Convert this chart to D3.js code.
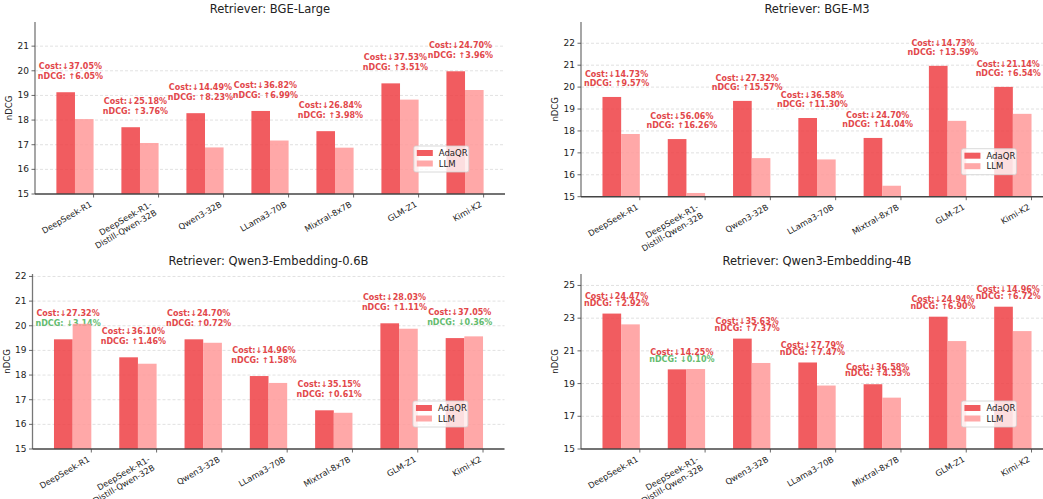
<!DOCTYPE html>
<html>
<head>
<meta charset="utf-8">
<script src="https://cdn.jsdelivr.net/npm/d3@7"></script>
<style>
  body { margin: 0; background: #fff; }
  svg { font-family: "DejaVu Sans", sans-serif; display: block; }
</style>
</head>
<body>
<div id="chart"></div>
<script>
// models on the x axis (second line after \n)
var models = ["DeepSeek-R1", "DeepSeek-R1-\nDistill-Qwen-32B", "Qwen3-32B", "LLama3-70B", "Mixtral-8x7B", "GLM-Z1", "Kimi-K2"];
var seriesNames = ["AdaQR", "LLM"];

// Retriever: BGE-Large
var bgeLargeAdaQR = [19.13, 17.71, 18.28, 18.37, 17.55, 19.49, 19.98];
var bgeLargeLLM   = [18.04, 17.07, 16.89, 17.17, 16.88, 18.83, 19.22];
var bgeLargeCost  = ["37.05", "25.18", "14.49", "36.82", "26.84", "37.53", "24.70"];
var bgeLargeGain  = [6.05, 3.76, 8.23, 6.99, 3.98, 3.51, 3.96];

// Retriever: BGE-M3
var bgeM3AdaQR = [19.55, 17.63, 19.37, 18.59, 17.68, 20.97, 20.01];
var bgeM3LLM   = [17.86, 15.17, 16.76, 16.70, 15.50, 18.46, 18.78];
var bgeM3Cost  = ["14.73", "56.06", "27.32", "36.58", "24.70", "14.73", "21.14"];
var bgeM3Gain  = [9.57, 16.26, 15.57, 11.30, 14.04, 13.59, 6.54];

// Retriever: Qwen3-Embedding-0.6B
var qwen06AdaQR = [19.45, 18.72, 19.45, 17.96, 16.57, 20.10, 19.50];
var qwen06LLM   = [20.08, 18.46, 19.31, 17.68, 16.47, 19.88, 19.57];
var qwen06Cost  = ["27.32", "36.10", "24.70", "14.96", "35.15", "28.03", "37.05"];
var qwen06Gain  = [-3.14, 1.46, 0.72, 1.58, 0.61, 1.11, -0.36];

// Retriever: Qwen3-Embedding-4B
var qwen4AdaQR = [23.28, 19.87, 21.75, 20.29, 18.96, 23.09, 23.70];
var qwen4LLM   = [22.62, 19.89, 20.26, 18.88, 18.14, 21.60, 22.21];
var qwen4Cost  = ["24.47", "14.25", "35.63", "27.79", "36.58", "24.94", "14.96"];
var qwen4Gain  = [2.92, -0.10, 7.37, 7.47, 4.53, 6.90, 6.72];

var yTicks3 = [15, 16, 17, 18, 19, 20, 21];
var yTicksM3 = [15, 16, 17, 18, 19, 20, 21, 22];
var yTicks06 = [15, 16, 17, 18, 19, 20, 21, 22];
var yTicks4 = [15, 17, 19, 21, 23, 25];

var colAda = "#ee3f44", colLLM = "#ff9999";
var colUp = "#e2474a", colDown = "#63bb6e";

var svg = d3.select("#chart").append("svg")
  .attr("width", 1043).attr("height", 499);

function panel(p) {
  var g = svg.append("g");
  var x = d3.scaleLinear().domain([-0.615, 6.615]).range([p.left, p.right]);
  var yMax = d3.max(p.ada) + 2;
  var y = d3.scaleLinear().domain([15, yMax]).range([p.bottom, p.top]);
  var bw = x(0.286) - x(0);

  // grid
  g.selectAll(".grid").data(p.ticks.slice(1)).enter().append("line")
    .attr("x1", p.left).attr("x2", p.right)
    .attr("y1", function(d) { return y(d); }).attr("y2", function(d) { return y(d); })
    .attr("stroke", "#d9d9d9").attr("stroke-width", 0.8).attr("stroke-dasharray", "3,2");

  // annotations (under bars)
  p.ada.forEach(function(v, i) {
    var cx = x(i) - 0.07 * (x(1) - x(0));
    var gain = p.gain[i];
    g.append("text").attr("x", cx).attr("y", y(v + 1.03))
      .attr("text-anchor", "middle").attr("dominant-baseline", "middle")
      .attr("font-size", 8).attr("font-weight", "bold").attr("fill", colUp)
      .text("Cost:\u2193" + p.cost[i] + "%");
    g.append("text").attr("x", cx).attr("y", y(v + 0.63))
      .attr("text-anchor", "middle").attr("dominant-baseline", "middle")
      .attr("font-size", 8).attr("font-weight", "bold")
      .attr("fill", gain < 0 ? colDown : colUp)
      .text("nDCG: " + (gain < 0 ? "\u2193" : "\u2191") + Math.abs(gain).toFixed(2) + "%");
  });

  // bars
  g.selectAll(".ada").data(p.ada).enter().append("rect")
    .attr("x", function(d, i) { return x(i) - bw; })
    .attr("y", function(d) { return y(d); })
    .attr("width", bw).attr("height", function(d) { return y(15) - y(d); })
    .attr("fill", colAda).attr("fill-opacity", 0.85);
  g.selectAll(".llm").data(p.llm).enter().append("rect")
    .attr("x", function(d, i) { return x(i); })
    .attr("y", function(d) { return y(d); })
    .attr("width", bw).attr("height", function(d) { return y(15) - y(d); })
    .attr("fill", colLLM).attr("fill-opacity", 0.85);

  // y axis
  g.append("line").attr("x1", p.left).attr("x2", p.left)
    .attr("y1", p.top).attr("y2", p.bottom).attr("stroke", "#777").attr("stroke-width", 1.3);
  p.ticks.forEach(function(t) {
    g.append("line").attr("x1", p.left - 3.5).attr("x2", p.left)
      .attr("y1", y(t)).attr("y2", y(t)).attr("stroke", "#444").attr("stroke-width", 0.8);
    g.append("text").attr("x", p.left - 6).attr("y", y(t))
      .attr("text-anchor", "end").attr("dominant-baseline", "central")
      .attr("font-size", 9).attr("fill", "#222").text(t);
  });
  // x axis: ticks sit at the right edge of each group
  g.append("line").attr("x1", p.left).attr("x2", p.right)
    .attr("y1", p.bottom).attr("y2", p.bottom).attr("stroke", "#444").attr("stroke-width", 1.5);
  models.forEach(function(m, i) {
    var tx = x(i) + bw;
    g.append("line").attr("x1", tx).attr("x2", tx)
      .attr("y1", p.bottom).attr("y2", p.bottom + 3.5).attr("stroke", "#444").attr("stroke-width", 0.8);
    var lines = m.split("\n");
    var lg = g.append("g");
    var t = lg.append("text").attr("transform", "rotate(-30)")
      .attr("text-anchor", "end").attr("font-size", 8.3).attr("fill", "#222");
    lines.forEach(function(l, k) {
      t.append("tspan").attr("x", 0).attr("dy", k === 0 ? 0 : "1.15em").text(l);
    });
    var bb = lg.node().getBBox();
    lg.attr("transform", "translate(" + (tx - (bb.x + bb.width)) + "," + (p.bottom + 5 - bb.y) + ")");
  });

  // title and y label
  g.append("text").attr("x", (p.left + p.right) / 2).attr("y", p.top - 9)
    .attr("text-anchor", "middle").attr("font-size", 11.5).attr("fill", "#222").text(p.title);
  g.append("text").attr("transform", "translate(" + (p.left - 23) + "," + ((p.top + p.bottom) / 2) + ") rotate(-90)")
    .attr("text-anchor", "middle").attr("font-size", 8.5).attr("fill", "#222").text("nDCG");

  // legend
  var lx = p.left + 0.806 * (p.right - p.left), ly = p.bottom - 48;
  g.append("rect").attr("x", lx).attr("y", ly).attr("width", 55).attr("height", 26)
    .attr("rx", 2).attr("fill", "#fff").attr("fill-opacity", 0.8)
    .attr("stroke", "#d0d0d0").attr("stroke-width", 0.8);
  [colAda, colLLM].forEach(function(c, k) {
    g.append("rect").attr("x", lx + 3).attr("y", ly + 4 + k * 10.5).attr("width", 16).attr("height", 6)
      .attr("fill", c).attr("fill-opacity", 0.85);
    g.append("text").attr("x", lx + 25).attr("y", ly + 7 + k * 10.5)
      .attr("dominant-baseline", "central").attr("font-size", 8.5).attr("fill", "#222")
      .text(seriesNames[k]);
  });
}

panel({ title: "Retriever: BGE-Large", left: 35, right: 505, top: 22, bottom: 194,
  ada: bgeLargeAdaQR, llm: bgeLargeLLM, cost: bgeLargeCost, gain: bgeLargeGain, ticks: yTicks3 });
panel({ title: "Retriever: BGE-M3", left: 581, right: 1053, top: 22, bottom: 196.7,
  ada: bgeM3AdaQR, llm: bgeM3LLM, cost: bgeM3Cost, gain: bgeM3Gain, ticks: yTicksM3 });
panel({ title: "Retriever: Qwen3-Embedding-0.6B", left: 32.5, right: 504.5, top: 274, bottom: 449,
  ada: qwen06AdaQR, llm: qwen06LLM, cost: qwen06Cost, gain: qwen06Gain, ticks: yTicks06 });
panel({ title: "Retriever: Qwen3-Embedding-4B", left: 581, right: 1053, top: 274, bottom: 449,
  ada: qwen4AdaQR, llm: qwen4LLM, cost: qwen4Cost, gain: qwen4Gain, ticks: yTicks4 });
</script>
</body>
</html>
